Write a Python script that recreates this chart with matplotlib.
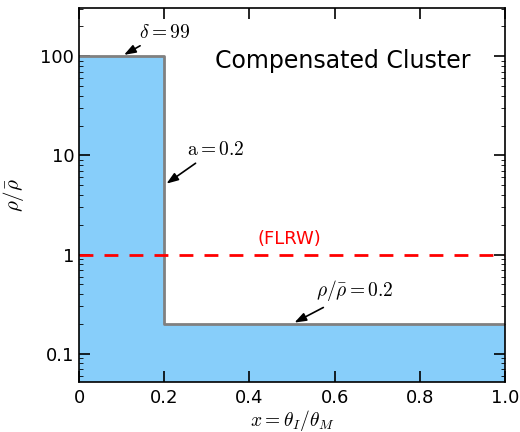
import numpy as np
import matplotlib
matplotlib.use("Agg")
import matplotlib.pyplot as plt

plt.rcParams['mathtext.fontset'] = 'cm'

# step profile of the compensated cluster
x_edges = [0.0, 0.2, 1.0]
rho = [100.0, 0.2, 0.2]
flrw = 1.0

fig = plt.figure(figsize=(5.2, 4.32), dpi=100)
ax = fig.add_axes([0.152, 0.116, 0.819, 0.865])

ax.fill_between(x_edges, rho, 1e-3, step='post', color='#87CEFA', lw=0)
ax.step(x_edges, rho, where='post', color='gray', lw=2)
ax.plot([0, 1], [flrw, flrw], color='red', ls='--', lw=2, dashes=(5, 4))

ax.set_yscale('log')
ax.set_xlim(0, 1)
ax.set_ylim(0.052, 305)
ax.set_xticks([0, 0.2, 0.4, 0.6, 0.8, 1.0])
ax.set_xticklabels(['0', '0.2', '0.4', '0.6', '0.8', '1.0'])
ax.set_yticks([0.1, 1, 10, 100])
ax.set_yticklabels(['0.1', '1', '10', '100'])
ax.tick_params(which='both', direction='in', top=True, right=True, labelsize=13)
ax.tick_params(which='major', length=8, width=1.2)
ax.tick_params(which='minor', length=3, width=0.6)
ax.tick_params(axis='x', pad=5)
for s in ax.spines.values():
    s.set_linewidth(1.2)

ax.set_xlabel(r'$x = \theta_I/\theta_M$', fontsize=14, labelpad=1)
ax.set_ylabel(r'$\rho/\bar{\rho}$', fontsize=15, labelpad=10)

arrow = dict(arrowstyle='-|>,head_length=0.5,head_width=0.18', color='black', lw=1.2)
ax.annotate(r'$\delta = 99$', xy=(0.1, 100), xytext=(0.2, 175), fontsize=14,
            ha='center', va='center', arrowprops=arrow)
ax.annotate(r'$\mathrm{a} = 0.2$', xy=(0.2, 5), xytext=(0.32, 11.5), fontsize=14,
            ha='center', va='center', arrowprops=arrow)
ax.annotate(r'$\rho/\bar{\rho} = 0.2$', xy=(0.5, 0.2), xytext=(0.648, 0.43), fontsize=14,
            ha='center', va='center', arrowprops=arrow)
ax.text(0.495, 1.45, '(FLRW)', color='red', fontsize=13, ha='center', va='center')
ax.text(0.62, 90, 'Compensated Cluster', fontsize=17, ha='center', va='center')

fig.savefig('out.png', dpi=100)
